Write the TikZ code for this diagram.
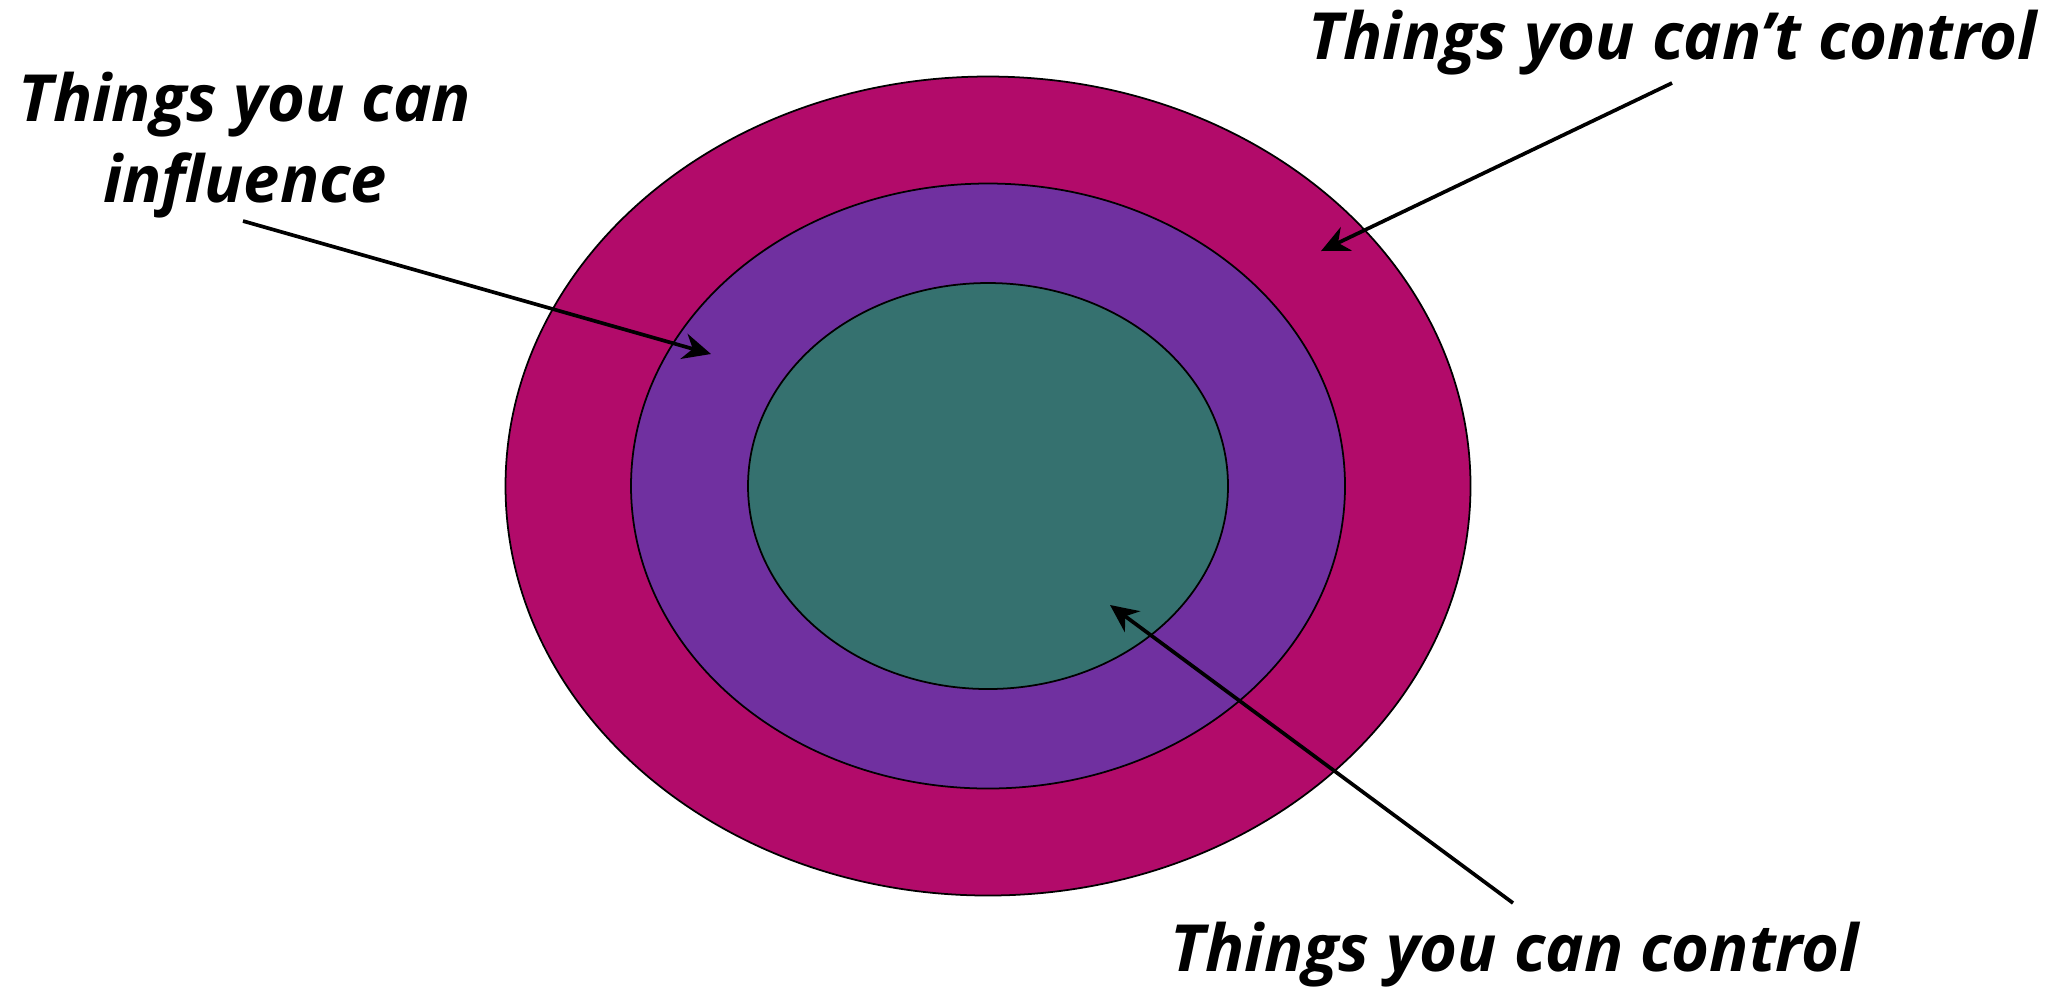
\documentclass[tikz,border=0pt]{standalone}
\usepackage{fontspec}
\setmainfont{Open Sans}
\usepackage{tikz}
\usetikzlibrary{arrows.meta,positioning,shapes.geometric}
\definecolor{ringOuter}{RGB}{178,11,106}
\definecolor{ringMid}{RGB}{112,48,160}
\definecolor{ringCore}{RGB}{53,113,111}

\begin{document}
\begin{tikzpicture}[x=0.1mm,y=-0.1mm,
  ring/.style={ellipse,draw=black,line width=0.5pt,inner sep=0pt},
  lbl/.style={font=\fontsize{18.5}{22.8}\selectfont\bfseries\itshape,align=center,inner sep=0pt},
  ptr/.style={-{Stealth[length=2.8mm,width=2.6mm]},line width=1.05pt}]
  \useasboundingbox (0,0) rectangle (2072,988);
  \node[ring,fill=ringOuter,minimum width=96.5mm,minimum height=81.9mm] (outer) at (988,486) {};
  \node[ring,fill=ringMid,minimum width=71.4mm,minimum height=60.5mm] (middle) at (988,486) {};
  \node[ring,fill=ringCore,minimum width=48mm,minimum height=40.6mm] (inner) at (988,486) {};
  \node[lbl,anchor=base] (infl) at (245,202) {Things you can\\influence};
  \node[lbl,anchor=base] (cant) at (1673,59) {Things you can’t control};
  \node[lbl,anchor=base] (can) at (1515,971) {Things you can control};
  % arrow ends
  \coordinate (inflTail) at (243,221);
  \coordinate (inflHead) at (711,354);
  \coordinate (cantTail) at (1672,83);
  \coordinate (cantHead) at (1321,251);
  \coordinate (canTail) at (1513,903);
  \coordinate (canHead) at (1110,605);
  \draw[ptr] (inflTail) -- (inflHead);
  \draw[ptr] (cantTail) -- (cantHead);
  \draw[ptr] (canTail) -- (canHead);
\end{tikzpicture}
\end{document}
